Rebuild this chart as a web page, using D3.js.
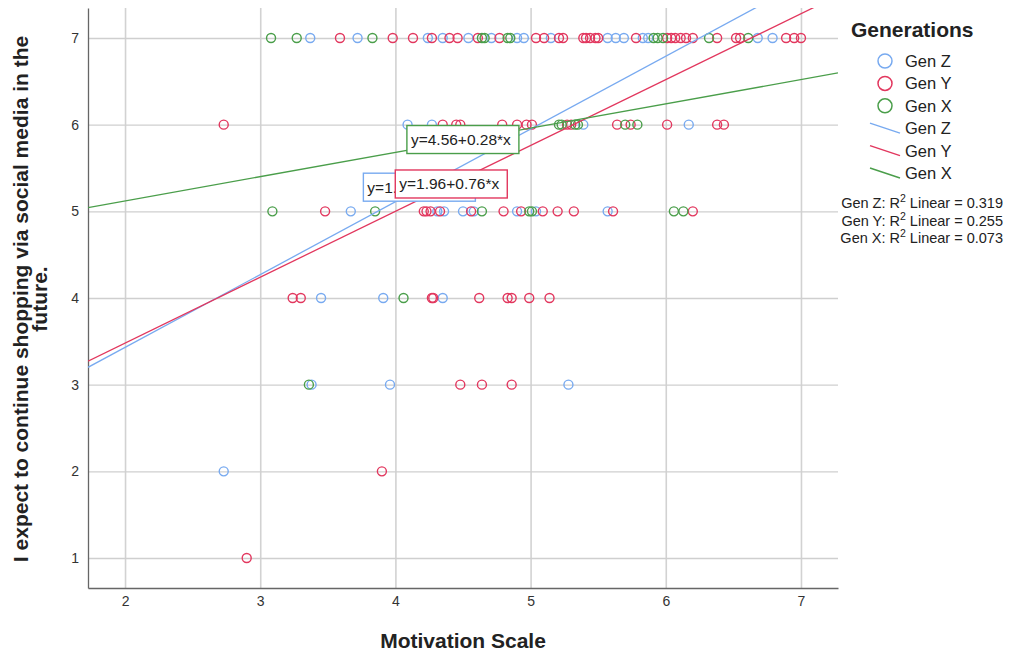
<!DOCTYPE html>
<html>
<head>
<meta charset="utf-8">
<script src="https://cdn.jsdelivr.net/npm/d3@7"></script>
<style>
  body { margin: 0; background: #fff; }
  svg { font-family: "Liberation Sans", Arial, sans-serif; }
</style>
</head>
<body>
<div id="chart"></div>
<script>
(function(d3) {
  'use strict';

  // points per generation, [motivation, expectation]
  var genZ = [
    [3.37, 7], [3.72, 7], [4.24, 7], [4.35, 7], [4.54, 7], [4.71, 7], [4.90, 7], [4.95, 7],
    [5.15, 7], [5.57, 7], [5.63, 7], [5.69, 7], [5.83, 7], [5.87, 7], [6.68, 7], [6.79, 7],
    [4.09, 6], [4.27, 6], [5.39, 6], [6.17, 6],
    [3.67, 5], [4.31, 5], [4.36, 5], [4.50, 5], [4.58, 5], [4.90, 5], [5.04, 5], [5.57, 5],
    [3.45, 4], [3.91, 4], [4.35, 4],
    [3.38, 3], [3.96, 3], [5.28, 3],
    [2.73, 2]
  ];
  var genY = [
    [3.59, 7], [3.98, 7], [4.13, 7], [4.27, 7], [4.40, 7], [4.46, 7], [4.61, 7], [4.77, 7],
    [5.04, 7], [5.10, 7], [5.21, 7], [5.24, 7], [5.39, 7], [5.41, 7], [5.44, 7], [5.48, 7],
    [5.50, 7], [5.78, 7], [6.01, 7], [6.04, 7], [6.07, 7], [6.11, 7], [6.15, 7], [6.20, 7],
    [6.38, 7], [6.52, 7], [6.55, 7], [6.89, 7], [6.95, 7], [7.00, 7],
    [2.73, 6], [4.35, 6], [4.45, 6], [4.48, 6], [4.79, 6], [4.90, 6], [4.97, 6], [5.01, 6],
    [5.27, 6], [5.30, 6], [5.64, 6], [5.74, 6], [6.01, 6], [6.38, 6], [6.43, 6],
    [3.48, 5], [4.21, 5], [4.23, 5], [4.26, 5], [4.33, 5], [4.56, 5], [4.80, 5], [4.93, 5],
    [5.09, 5], [5.20, 5], [5.32, 5], [5.61, 5], [6.20, 5],
    [3.24, 4], [3.30, 4], [4.27, 4], [4.28, 4], [4.62, 4], [4.83, 4], [4.86, 4], [4.99, 4], [5.14, 4],
    [4.48, 3], [4.64, 3], [4.86, 3],
    [3.90, 2],
    [2.90, 1]
  ];
  var genX = [
    [3.08, 7], [3.27, 7], [3.83, 7], [4.64, 7], [4.66, 7], [4.83, 7], [4.85, 7],
    [5.91, 7], [5.94, 7], [5.98, 7], [6.32, 7], [6.61, 7],
    [5.21, 6], [5.23, 6], [5.33, 6], [5.35, 6], [5.70, 6], [5.79, 6],
    [3.09, 5], [3.85, 5], [4.64, 5], [4.99, 5], [5.01, 5], [6.06, 5], [6.13, 5],
    [4.06, 4],
    [3.36, 3]
  ];

  var groups = ['Gen Z', 'Gen Y', 'Gen X'];
  var colors = ['#78aaf0', '#e2375e', '#4a9e4a'];
  var intercepts = [1.75, 1.96, 4.56];
  var slopes = [0.84, 0.76, 0.28];
  var rSquared = ['0.319', '0.255', '0.073'];
  // where each equation label sits (data units, top-left corner)
  var labelAnchors = [[3.763, 5.44], [3.999, 5.477], [4.085, 5.99]];

  var xTicks = [2, 3, 4, 5, 6, 7];
  var yTicks = [1, 2, 3, 4, 5, 6, 7];
  var xDomain = [1.726, 7.274];
  var yDomain = [0.654, 7.346];

  var width = 1009;
  var height = 652;
  var left = 88, right = 838, top = 8, bottom = 588;

  var svg = d3.select('#chart')
    .append('svg')
    .attr('width', width)
    .attr('height', height);

  var x = d3.scaleLinear().domain(xDomain).range([left, right]);
  var y = d3.scaleLinear().domain(yDomain).range([bottom, top]);

  svg.append('clipPath').attr('id', 'plot')
    .append('rect')
    .attr('x', left).attr('y', top)
    .attr('width', right - left).attr('height', bottom - top);

  // grid
  svg.append('g')
    .attr('transform', 'translate(0,' + bottom + ')')
    .call(d3.axisBottom(x).tickValues(xTicks).tickSize(-(bottom - top)).tickFormat(''))
    .call(function(g) {
      g.select('.domain').remove();
      g.selectAll('line').attr('stroke', '#d2d2d2').attr('stroke-width', 1.6);
    });
  svg.append('g')
    .attr('transform', 'translate(' + left + ',0)')
    .call(d3.axisLeft(y).tickValues(yTicks).tickSize(-(right - left)).tickFormat(''))
    .call(function(g) {
      g.select('.domain').remove();
      g.selectAll('line').attr('stroke', '#cfcfcf').attr('stroke-width', 1.4);
    });

  // axes
  svg.append('g')
    .attr('transform', 'translate(0,' + bottom + ')')
    .call(d3.axisBottom(x).tickValues(xTicks).tickSize(0).tickPadding(8).tickFormat(d3.format('d')))
    .call(function(g) {
      g.select('.domain').attr('stroke', '#666').attr('stroke-width', 1.3);
      g.selectAll('text').attr('font-size', 14).attr('fill', '#333')
        .attr('font-family', '"Liberation Sans", Arial, sans-serif');
    });
  svg.append('g')
    .attr('transform', 'translate(' + left + ',0)')
    .call(d3.axisLeft(y).tickValues(yTicks).tickSize(0).tickPadding(9).tickFormat(d3.format('d')))
    .call(function(g) {
      g.select('.domain').attr('stroke', '#666').attr('stroke-width', 1.3);
      g.selectAll('text').attr('font-size', 14).attr('fill', '#333')
        .attr('font-family', '"Liberation Sans", Arial, sans-serif');
    });

  // points
  var plot = svg.append('g').attr('clip-path', 'url(#plot)');
  [genZ, genY, genX].forEach(function(pts, i) {
    plot.append('g').selectAll('circle')
      .data(pts)
      .enter()
      .append('circle')
      .attr('cx', function(d) { return x(d[0]); })
      .attr('cy', function(d) { return y(d[1]); })
      .attr('r', 4.5)
      .attr('fill', 'none')
      .attr('stroke', colors[i])
      .attr('stroke-width', 1.4);
  });

  // fit lines
  groups.forEach(function(g, i) {
    plot.append('line')
      .attr('x1', x(xDomain[0]))
      .attr('y1', y(intercepts[i] + slopes[i] * xDomain[0]))
      .attr('x2', x(xDomain[1]))
      .attr('y2', y(intercepts[i] + slopes[i] * xDomain[1]))
      .attr('stroke', colors[i])
      .attr('stroke-width', 1.3);
  });

  // equation labels
  groups.forEach(function(g, i) {
    var lx = x(labelAnchors[i][0]);
    var ly = y(labelAnchors[i][1]);
    var lab = svg.append('g').attr('transform', 'translate(' + lx + ',' + ly + ')');
    lab.append('rect')
      .attr('width', 112).attr('height', 28)
      .attr('fill', '#fff')
      .attr('stroke', colors[i])
      .attr('stroke-width', 1.4);
    lab.append('text')
      .attr('x', 4).attr('y', 19.5)
      .attr('font-size', 15.5)
      .attr('fill', '#222')
      .text('y=' + intercepts[i].toFixed(2) + '+' + slopes[i].toFixed(2) + '*x');
  });

  // axis titles
  svg.append('text')
    .attr('x', (left + right) / 2)
    .attr('y', 648)
    .attr('text-anchor', 'middle')
    .attr('font-size', 21)
    .attr('font-weight', 'bold')
    .attr('fill', '#222')
    .text('Motivation Scale');

  var yTitle = svg.append('text')
    .attr('transform', 'translate(0,' + ((top + bottom) / 2 + 1) + ') rotate(-90)')
    .attr('text-anchor', 'middle')
    .attr('font-size', 21)
    .attr('font-weight', 'bold')
    .attr('fill', '#222');
  yTitle.append('tspan').attr('x', 0).attr('y', 28)
    .text('I expect to continue shopping via social media in the');
  yTitle.append('tspan').attr('x', 0).attr('y', 47).text('future.');

  // legend
  var legend = svg.append('g');
  legend.append('text')
    .attr('x', 851).attr('y', 37)
    .attr('font-size', 21)
    .attr('font-weight', 'bold')
    .attr('fill', '#222')
    .text('Generations');

  var rowY = d3.scalePoint().domain(d3.range(6)).range([61, 173]);

  groups.forEach(function(g, i) {
    var cy = rowY(i);
    legend.append('circle')
      .attr('cx', 885).attr('cy', cy).attr('r', 7)
      .attr('fill', 'none')
      .attr('stroke', colors[i])
      .attr('stroke-width', 1.5);
    legend.append('text')
      .attr('x', 905).attr('y', cy + 6)
      .attr('font-size', 16.5).attr('fill', '#222')
      .text(g);
  });
  groups.forEach(function(g, i) {
    var cy = rowY(i + 3);
    legend.append('line')
      .attr('x1', 870).attr('y1', cy - 5)
      .attr('x2', 900).attr('y2', cy + 5)
      .attr('stroke', colors[i])
      .attr('stroke-width', 1.4);
    legend.append('text')
      .attr('x', 905).attr('y', cy + 6)
      .attr('font-size', 16.5).attr('fill', '#222')
      .text(g);
  });

  groups.forEach(function(g, i) {
    var t = legend.append('text')
      .attr('x', 1003).attr('y', 208 + i * 17.5)
      .attr('text-anchor', 'end')
      .attr('font-size', 14.5).attr('fill', '#222');
    t.append('tspan').text(g + ': R');
    t.append('tspan').attr('dy', -6).attr('font-size', 10.5).text('2');
    t.append('tspan').attr('dy', 6).text(' Linear = ' + rSquared[i]);
  });

})(window.d3);
</script>
</body>
</html>
